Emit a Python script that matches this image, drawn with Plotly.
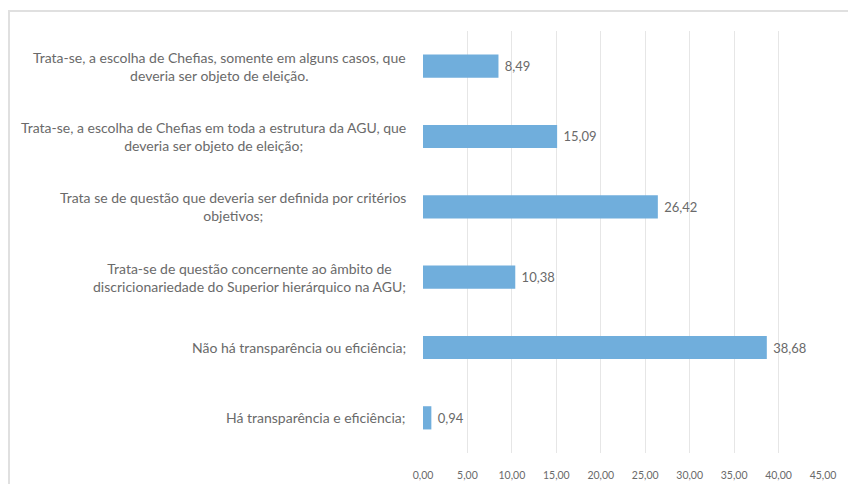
import plotly.graph_objects as go

# Survey answers (percent of respondents), listed top to bottom
categories = [
    "Trata-se, a escolha de Chefias, somente em alguns casos, que<br>deveria ser objeto de eleição.",
    "Trata-se, a escolha de Chefias em toda a estrutura da AGU, que<br>deveria ser objeto de eleição;",
    "Trata se de questão que deveria ser definida por critérios<br>objetivos;",
    "Trata-se de questão concernente ao âmbito de<br>discricionariedade do Superior hierárquico na AGU;",
    "Não há transparência ou eficiência;",
    "Há transparência e eficiência;",
]
values = [8.49, 15.09, 26.42, 10.38, 38.68, 0.94]
x_ticks = [0, 5, 10, 15, 20, 25, 30, 35, 40, 45]

W, H = 848, 484
M_L, M_R, M_T, M_B = 423, 25, 31, 31

bar_color = "#70AEDC"
text_color = "#6A6A6A"
grid_color = "#E6E6E6"

fig = go.Figure()
fig.add_trace(go.Bar(
    x=values,
    y=categories,
    orientation="h",
    marker=dict(color=bar_color, line=dict(width=0)),
    text=values,
    texttemplate="\u00a0%{x:.2f}",
    textposition="outside",
    textfont=dict(family="Lato", size=13, color=text_color),
    cliponaxis=False,
    hoverinfo="skip",
))

# category labels, centred lines in a right-aligned block
for cat in categories:
    fig.add_annotation(
        x=0, xref="x domain", y=cat, yref="y",
        text=cat, showarrow=False,
        xanchor="right", align="center", xshift=-15,
        font=dict(family="Lato", size=14, color=text_color),
    )

# light frame around the chart
pw, ph = W - M_L - M_R, H - M_T - M_B
def px_x(p):
    return (p - M_L) / pw
def px_y(p):
    return 1 - (p - M_T) / ph
fig.add_shape(
    type="rect", xref="paper", yref="paper",
    x0=px_x(9), x1=px_x(W + 20), y0=px_y(H + 20), y1=px_y(11),
    line=dict(color="#E0E0E0", width=2), fillcolor="rgba(0,0,0,0)", layer="below",
)

fig.update_layout(
    width=W, height=H,
    margin=dict(l=M_L, r=M_R, t=M_T, b=M_B, autoexpand=False),
    paper_bgcolor="white", plot_bgcolor="white",
    separators=",.",
    bargap=0.67,
    showlegend=False,
    xaxis=dict(
        range=[0, 45], tickvals=x_ticks, tickformat=".2f",
        showgrid=True, gridcolor=grid_color, gridwidth=1,
        zeroline=False, showline=False, automargin=False,
        ticks="outside", ticklen=12, tickcolor="rgba(0,0,0,0)",
        tickfont=dict(family="Lato", size=10.5, color=text_color),
    ),
    yaxis=dict(
        autorange="reversed", showticklabels=False, automargin=False,
        showgrid=False, zeroline=False, showline=False,
    ),
)

fig.write_html("out.html")
